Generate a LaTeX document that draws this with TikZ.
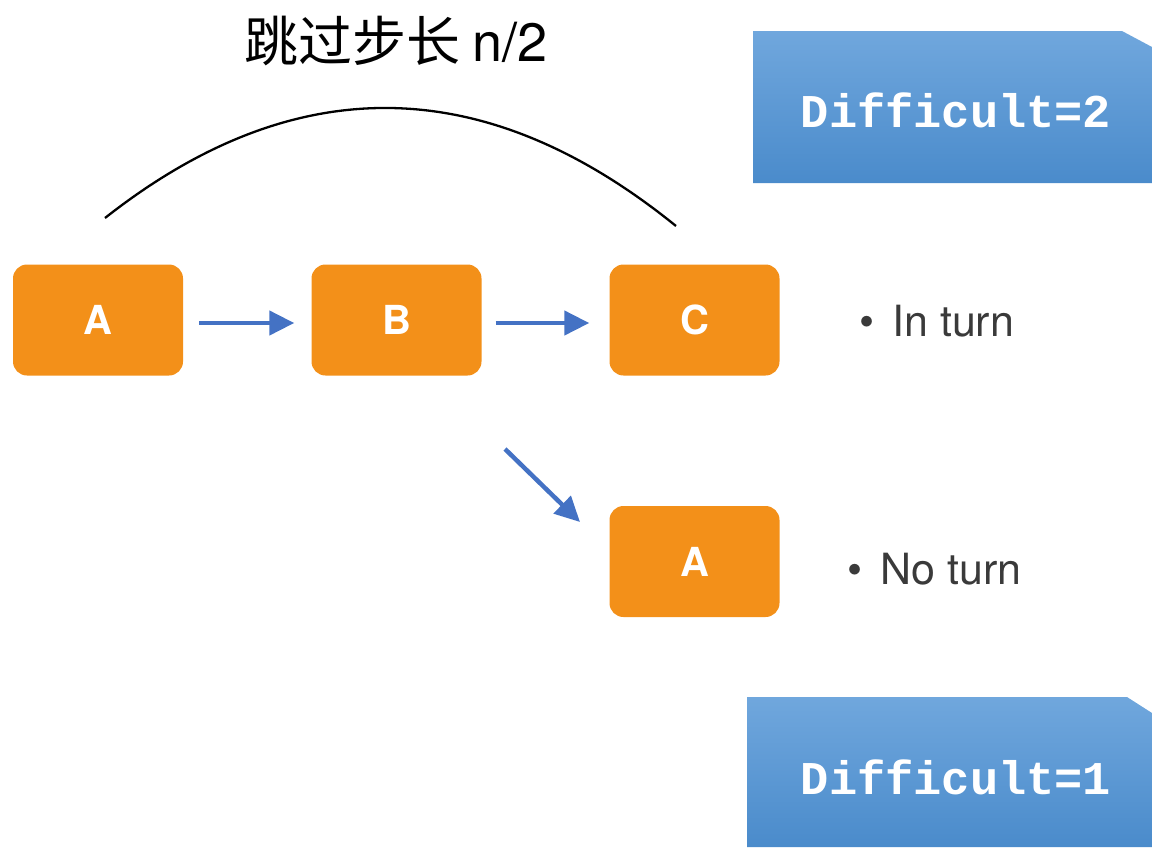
\documentclass[tikz,border=0pt]{standalone}
\usepackage{fontspec}
\setmainfont{TeX Gyre Heros}
\newfontfamily\cjk{Noto Sans CJK SC}
\newfontfamily\monob{Liberation Mono}
\usetikzlibrary{arrows.meta}
\definecolor{orangebox}{HTML}{F39019}
\definecolor{arrowblue}{HTML}{4472C4}
\definecolor{bluetop}{HTML}{70A7DD}
\definecolor{bluebot}{HTML}{4A8BCB}
\definecolor{bullettext}{HTML}{3A3A3A}
\tikzset{
  obox/.style={fill=orangebox, rounded corners=14pt, minimum width=170pt, minimum height=111pt,
    inner sep=0pt, text=white, font=\fontsize{40}{40}\selectfont\bfseries},
  barrow/.style={draw=arrowblue, line width=4.5pt, -{Triangle[length=25pt,width=24pt]}},
  bullet/.style={anchor=base west, text=bullettext, font=\fontsize{43}{43}\selectfont, inner sep=0pt},
  difftext/.style={text=white, font=\fontsize{47}{47}\selectfont\monob\bfseries, inner sep=0pt},
}
\begin{document}
\begin{tikzpicture}[x=1pt,y=-1pt]
\useasboundingbox (0,0) rectangle (1152,847);
% blue banners
\shade[top color=bluetop, bottom color=bluebot] (753,31) -- (1122,31) -- (1152,47) -- (1152,183) -- (753,183) -- cycle;
\shade[top color=bluetop, bottom color=bluebot] (747,697) -- (1127,697) -- (1152,713) -- (1152,847) -- (747,847) -- cycle;
\node[difftext] (d2) at (956,110) {Difficult=2};
\node[difftext] (d1) at (956,777) {Difficult=1};
% title
\node[inner sep=0pt, font=\fontsize{54}{54}\selectfont] (title) at (396,41) {\cjk 跳过步长 \rmfamily n/2};
% boxes
\node[obox] (A) at (98,320) {A};
\node[obox] (B) at (396.5,320) {B};
\node[obox] (C) at (694.5,320) {C};
\node[obox] (A2) at (694.5,561.5) {A};
% arrows
\draw[barrow] ([xshift=16pt,yshift=-3pt]A.east) -- ([xshift=-17pt,yshift=-3pt]B.west);
\draw[barrow] ([xshift=14pt,yshift=-3pt]B.east) -- ([xshift=-20pt,yshift=-3pt]C.west);
\coordinate (s1) at (505,449);
\coordinate (s2) at (580,522);
\draw[barrow] (s1) -- (s2);
% arc
\coordinate (a0) at (105,218);
\coordinate (a1) at (676,226);
\draw[line width=2.3pt] (a0) .. controls (294.7,68.7) and (485,71.3) .. (a1);
% bullets
\node[bullet] (t1) at (859,336) {\textbullet\hspace{18pt}In turn};
\node[bullet] (t2) at (847,584) {\textbullet\hspace{18pt}No turn};
\end{tikzpicture}
\end{document}
